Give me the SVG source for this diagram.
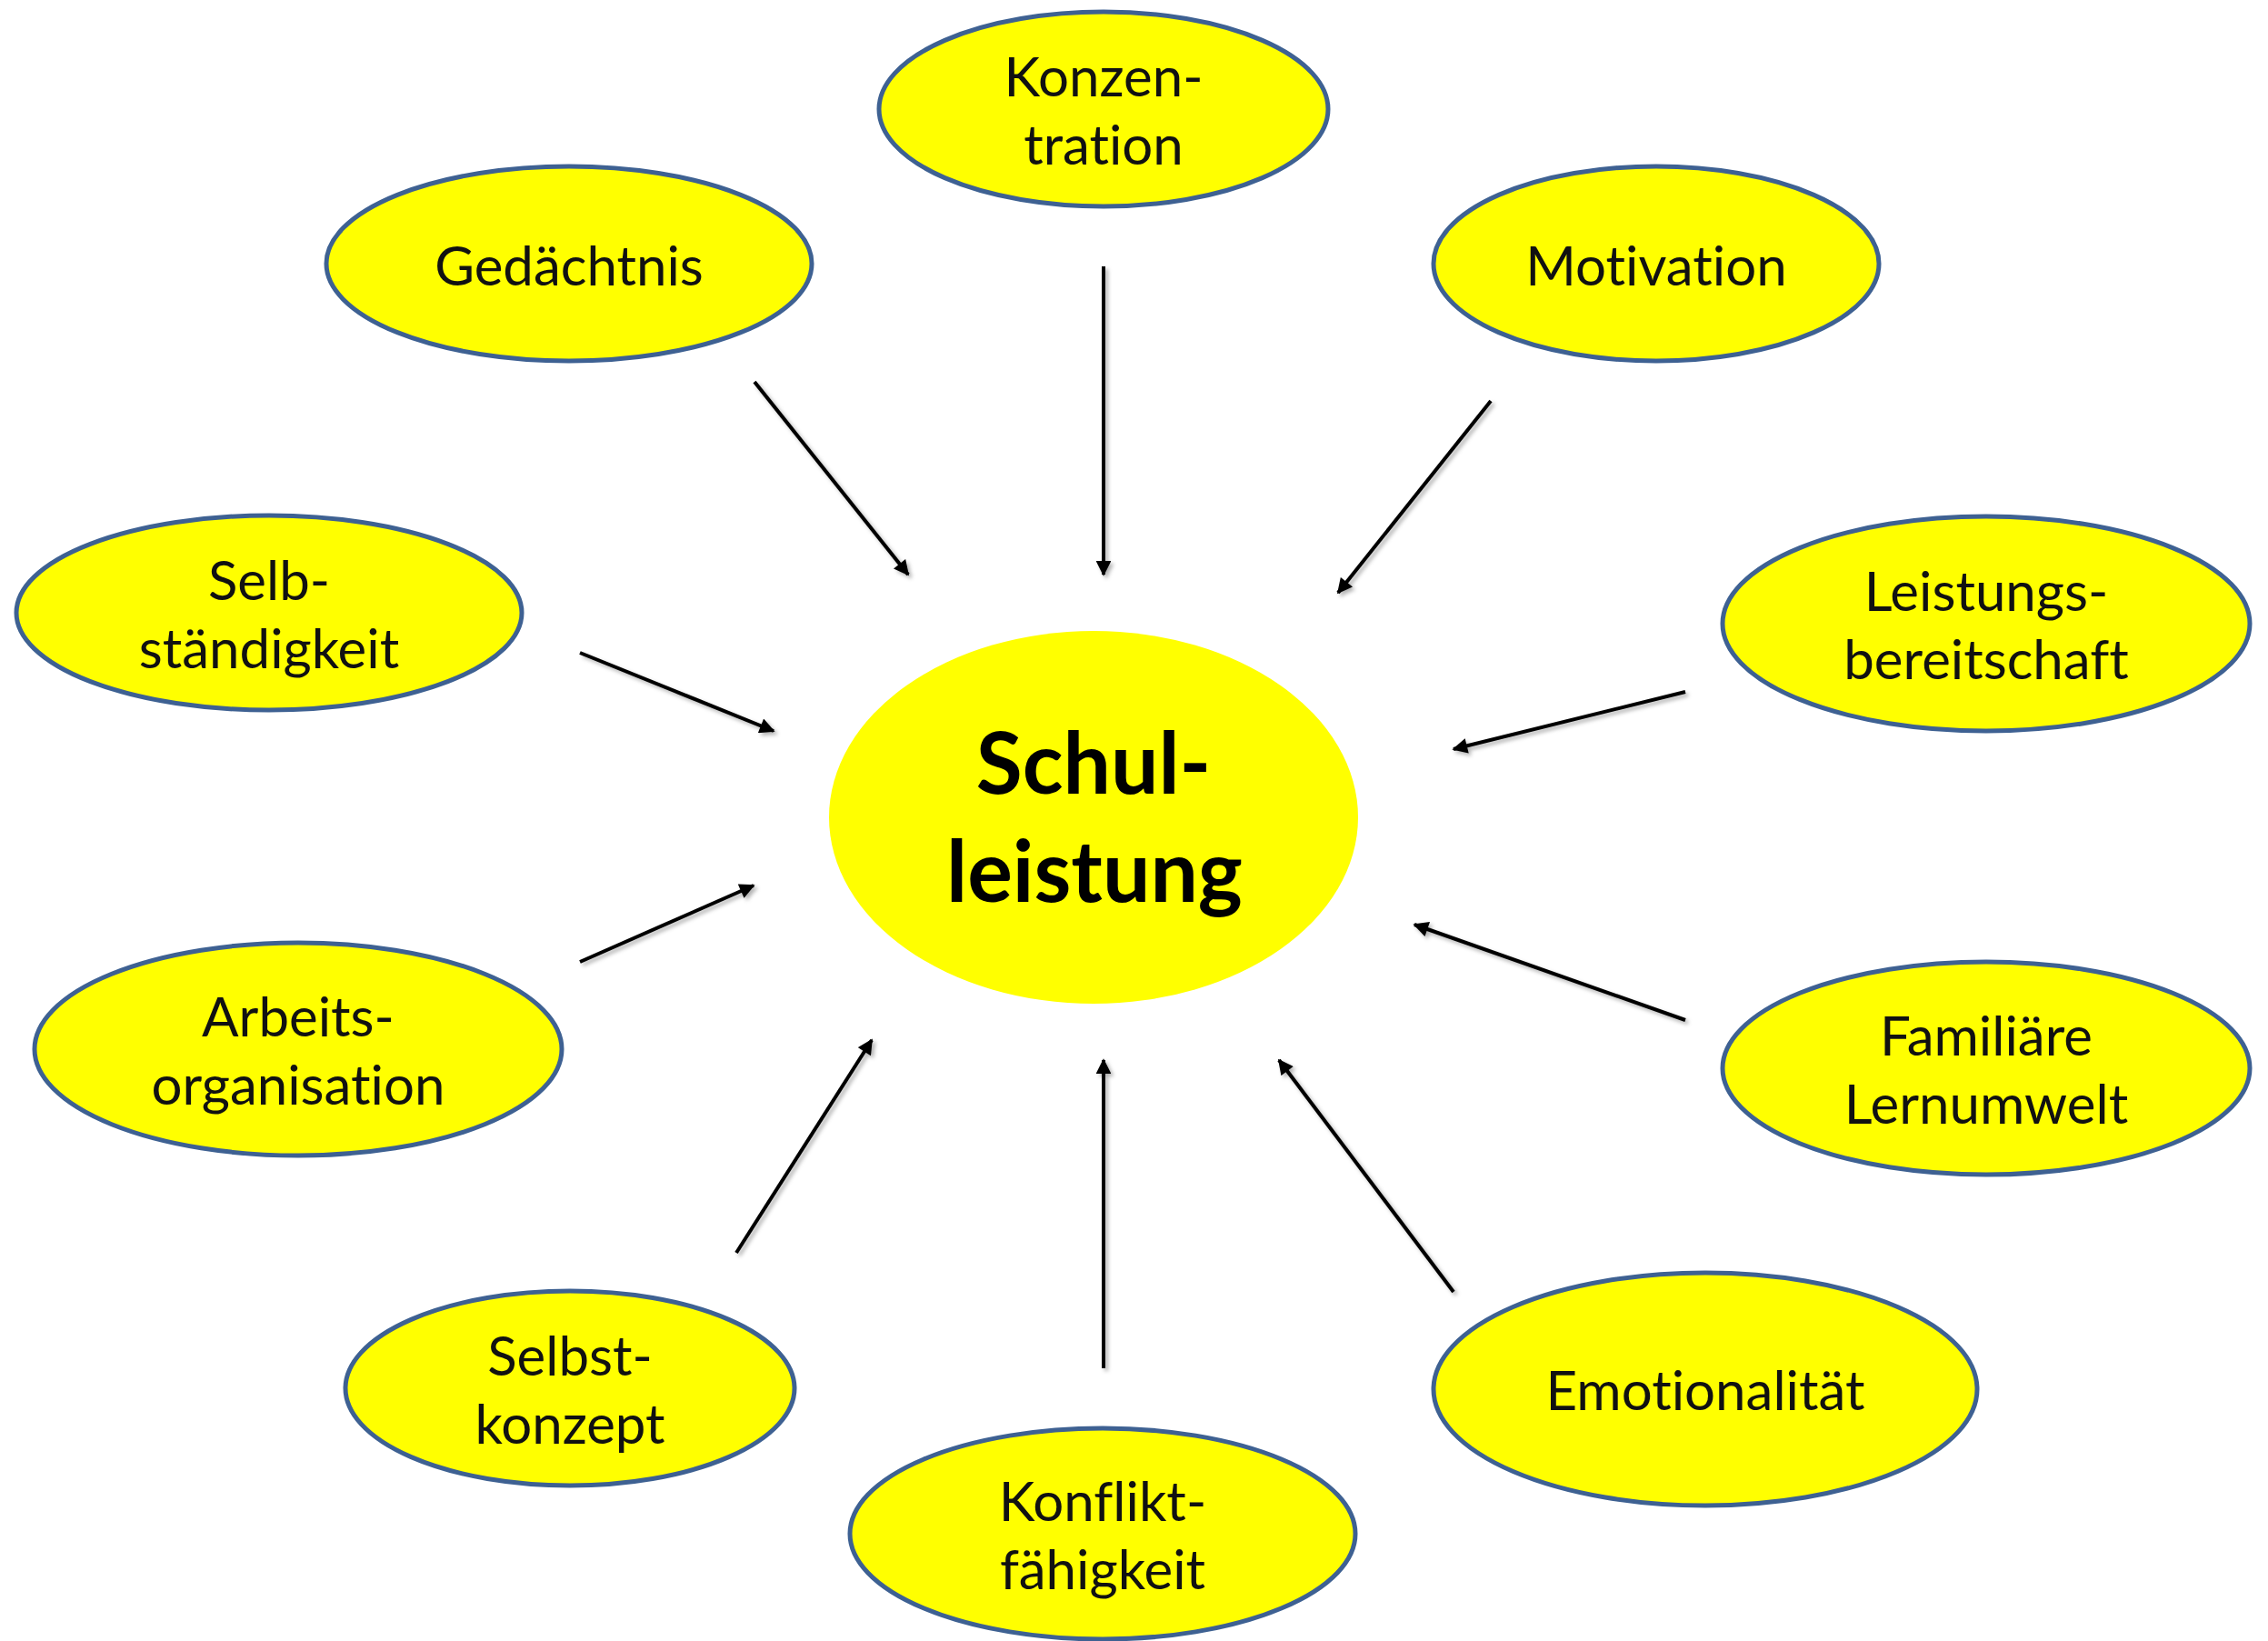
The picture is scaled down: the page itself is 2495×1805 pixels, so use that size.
<svg xmlns="http://www.w3.org/2000/svg" width="2495" height="1805" viewBox="0 0 2495 1805">
<style>
.node ellipse{fill:#FFFF00;stroke:#3E6192;stroke-width:5}
.node text{font-family:Lato,"Liberation Sans",sans-serif;font-size:60px;fill:#111;text-anchor:middle;font-variant-ligatures:none;font-feature-settings:"liga" 0}
#schulleistung ellipse{stroke:none}
#schulleistung text{font-weight:bold;font-size:93px;fill:#000}
.conn line{stroke:#000;stroke-width:4;marker-end:url(#arrow)}
</style>
<defs>
<marker id="arrow" viewBox="0 0 10 10" refX="9" refY="5" markerWidth="4.6" markerHeight="4.2" orient="auto" markerUnits="strokeWidth">
<path d="M0,0 L10,5 L0,10 Z" fill="#000"/>
</marker>
<filter id="shadow" x="-20%" y="-20%" width="140%" height="140%">
<feDropShadow dx="3" dy="3" stdDeviation="2" flood-color="#000" flood-opacity="0.3"/>
</filter>
</defs>
<rect width="2495" height="1805" fill="#fff"/>
<g id="connectors" class="conn" filter="url(#shadow)">
<line x1="830" y1="420" x2="999" y2="632"/>
<line x1="1214" y1="293" x2="1214" y2="632"/>
<line x1="1640" y1="441" x2="1472" y2="652"/>
<line x1="1854" y1="761" x2="1599" y2="824"/>
<line x1="1854" y1="1122" x2="1556" y2="1017"/>
<line x1="1599" y1="1421" x2="1407" y2="1166"/>
<line x1="1214" y1="1505" x2="1214" y2="1166"/>
<line x1="810" y1="1378" x2="959" y2="1144"/>
<line x1="638" y1="1058" x2="829" y2="974"/>
<line x1="638" y1="718" x2="851" y2="804"/>
</g>
<g id="schulleistung" class="node">
<ellipse cx="1203" cy="899" rx="291" ry="205"/>
<text x="1203" y="873">Schul-</text>
<text x="1204" y="992">leistung</text>
</g>
<g id="konzentration" class="node">
<ellipse cx="1214" cy="120" rx="247" ry="107"/>
<text x="1214" y="106">Konzen-</text>
<text x="1214" y="181">tration</text>
</g>
<g id="gedaechtnis" class="node">
<ellipse cx="626" cy="290" rx="267" ry="107"/>
<text x="626" y="314">Gedächtnis</text>
</g>
<g id="motivation" class="node">
<ellipse cx="1822" cy="290" rx="245" ry="107"/>
<text x="1822" y="314">Motivation</text>
</g>
<g id="selbstaendigkeit" class="node">
<ellipse cx="296" cy="674" rx="278" ry="107"/>
<text x="296" y="660">Selb-</text>
<text x="296" y="735">ständigkeit</text>
</g>
<g id="leistungsbereitschaft" class="node">
<ellipse cx="2185" cy="686" rx="290" ry="118"/>
<text x="2185" y="672">Leistungs-</text>
<text x="2185" y="747">bereitschaft</text>
</g>
<g id="arbeitsorganisation" class="node">
<ellipse cx="328" cy="1154" rx="290" ry="117"/>
<text x="328" y="1140">Arbeits-</text>
<text x="328" y="1215">organisation</text>
</g>
<g id="familiaere-lernumwelt" class="node">
<ellipse cx="2185" cy="1175" rx="290" ry="117"/>
<text x="2185" y="1161">Familiäre</text>
<text x="2185" y="1236">Lernumwelt</text>
</g>
<g id="selbstkonzept" class="node">
<ellipse cx="627" cy="1527" rx="247" ry="107"/>
<text x="627" y="1513">Selbst-</text>
<text x="627" y="1588">konzept</text>
</g>
<g id="emotionalitaet" class="node">
<ellipse cx="1876" cy="1528" rx="299" ry="128"/>
<text x="1876" y="1551">Emotionalität</text>
</g>
<g id="konfliktfaehigkeit" class="node">
<ellipse cx="1213" cy="1687" rx="278" ry="116"/>
<text x="1213" y="1673">Konflikt-</text>
<text x="1213" y="1748">fähigkeit</text>
</g>
</svg>
